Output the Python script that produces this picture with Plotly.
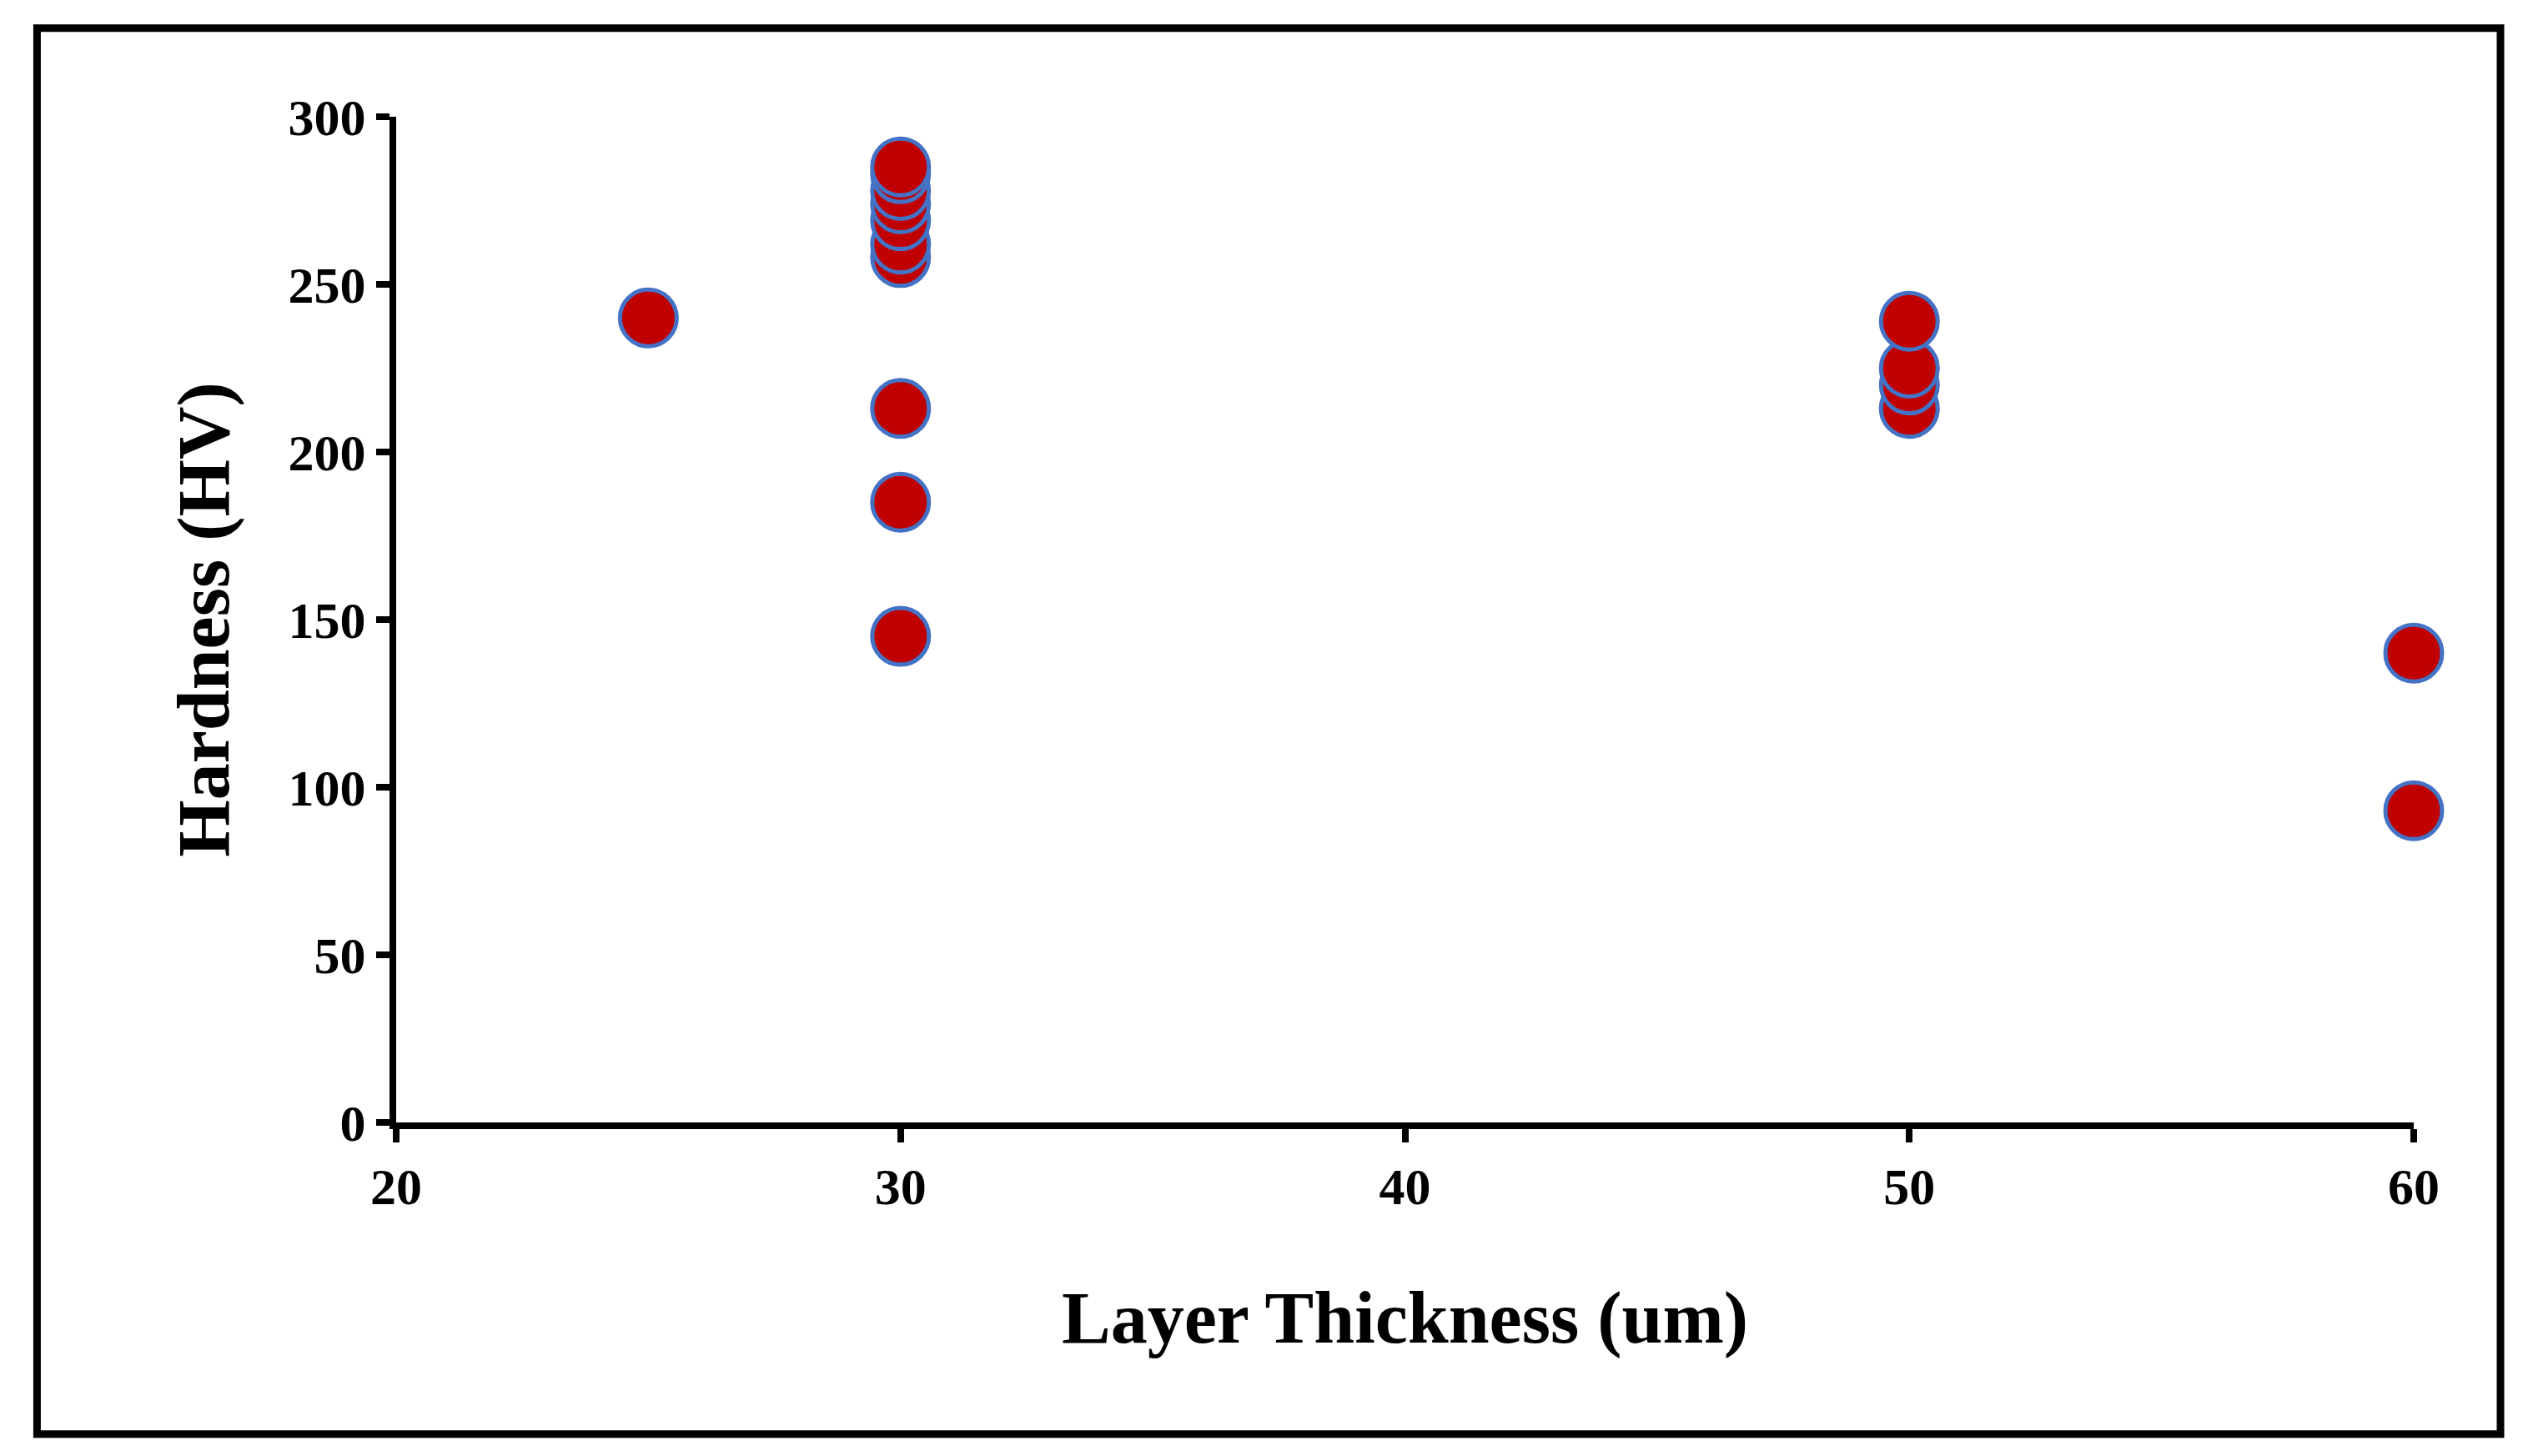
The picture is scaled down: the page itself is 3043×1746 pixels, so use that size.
import plotly.graph_objects as go

# layer thickness (um) and hardness (HV)
thickness = [25, 30, 30, 30, 30, 30, 30, 30, 30, 30, 30, 50, 50, 50, 50, 60, 60]
hardness = [240, 258, 262, 269, 274, 278, 283, 285, 213, 185, 145, 213, 220, 225, 239, 140, 93]

x_ticks = [20, 30, 40, 50, 60]
y_ticks = [0, 50, 100, 150, 200, 250, 300]

font = "Liberation Serif"

fig = go.Figure()
fig.add_trace(go.Scatter(
    x=thickness, y=hardness, mode="markers",
    marker=dict(size=68, color="#C00000", line=dict(color="#4472C4", width=5)),
    cliponaxis=False, showlegend=False,
))

axis_common = dict(
    showgrid=False, zeroline=False, showline=True, linecolor="black", linewidth=8,
    ticks="outside", tickwidth=8, ticklen=16, tickcolor="black",
    tickfont=dict(family=font, size=62, color="black", weight="bold"),
)
fig.update_xaxes(range=[20, 60], tickvals=x_ticks,
                 title=dict(text="Layer Thickness (um)", standoff=95,
                            font=dict(family=font, size=88, color="black", weight="bold")),
                 **axis_common)
fig.update_yaxes(range=[0, 300], tickvals=y_ticks,
                 title=dict(text="Hardness (HV)", standoff=45,
                            font=dict(family=font, size=88, color="black", weight="bold")),
                 **axis_common)

fig.update_layout(
    width=3043, height=1746,
    margin=dict(l=467, r=157, t=132, b=408),
    plot_bgcolor="white", paper_bgcolor="white",
    font=dict(family=font, color="black"),
    shapes=[dict(type="rect", xref="paper", yref="paper",
                 x0=-0.178, x1=1.043, y0=-0.310, y1=1.088,
                 line=dict(color="black", width=9))],
)

fig.write_html("out.html")
